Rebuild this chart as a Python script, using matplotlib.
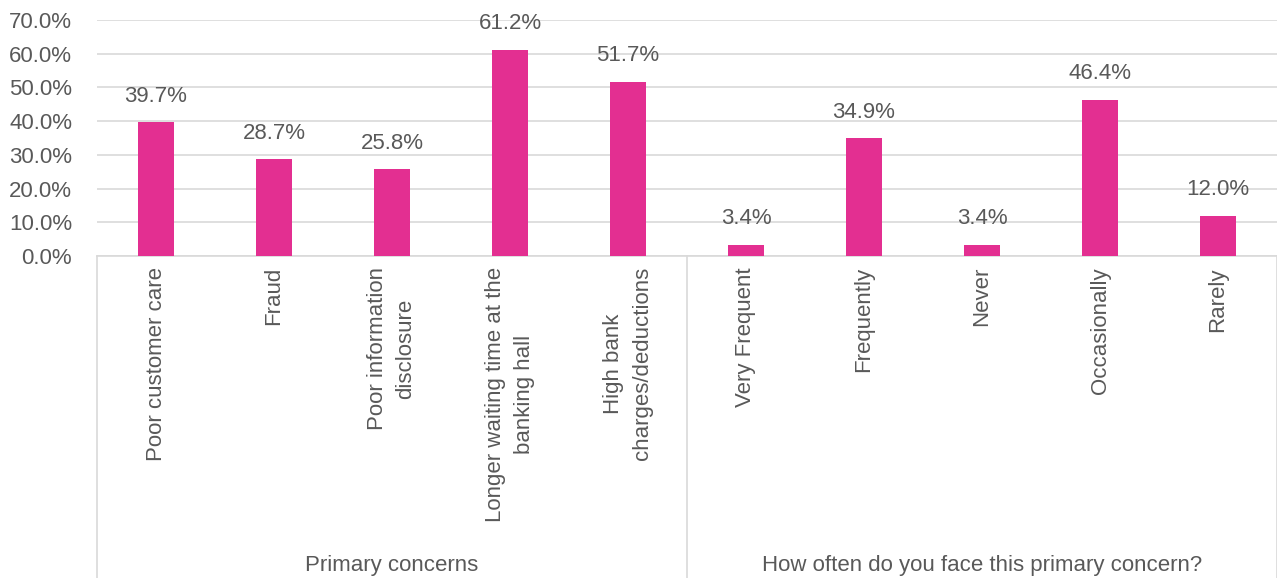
import matplotlib
matplotlib.use("Agg")
import matplotlib.pyplot as plt
import numpy as np

plt.rcParams['font.family'] = ['Liberation Sans', 'DejaVu Sans']

# Survey results (% of respondents)
concern_labels = ["Poor customer care", "Fraud", "Poor information\ndisclosure",
                  "Longer waiting time at the\nbanking hall", "High bank\ncharges/deductions"]
concern_values = [39.7, 28.7, 25.8, 61.2, 51.7]

freq_labels = ["Very Frequent", "Frequently", "Never", "Occasionally", "Rarely"]
freq_values = [3.4, 34.9, 3.4, 46.4, 12.0]

group_names = ["Primary concerns", "How often do you face this primary concern?"]

labels = concern_labels + freq_labels
values = concern_values + freq_values

text_color = "#595959"
grid_color = "#D9D9D9"
bar_color = "#E32F91"
fs = 16

W, H = 1277, 578
fig = plt.figure(figsize=(W / 100, H / 100), dpi=100)
ax = fig.add_axes([97 / W, 1 - 256 / H, 1 - 97 / W, (256 - 20) / H])

x = np.arange(len(values))
bars = ax.bar(x, values, width=0.31, color=bar_color, zorder=3)

for xi, v in zip(x, values):
    ax.annotate(f"{v:.1f}%", (xi, v), xytext=(0, 11), textcoords="offset points",
                ha="center", va="bottom", fontsize=fs, color=text_color)

ax.set_xlim(-0.5, len(values) - 0.5)
ax.set_ylim(0, 70)
ax.set_yticks(np.arange(0, 71, 10))
ax.set_yticklabels([f"{t:.1f}%" for t in np.arange(0, 71, 10)])
ax.yaxis.grid(True, color=grid_color, linewidth=1.2, zorder=0)
ax.tick_params(axis="y", length=0, pad=18, labelsize=fs, labelcolor=text_color)

ax.set_xticks(x)
ax.set_xticklabels(labels, rotation=90, ha="center", va="top",
                   multialignment="center", linespacing=1.45)
ax.tick_params(axis="x", length=0, pad=8, labelsize=fs, labelcolor=text_color)

for s in ["top", "right", "left"]:
    ax.spines[s].set_visible(False)
ax.spines["bottom"].set_color(grid_color)
ax.spines["bottom"].set_linewidth(1.2)

# group separators and group names below the category labels
trans = ax.get_xaxis_transform()
for xs in [-0.5, 4.5, 9.5]:
    ax.plot([xs, xs], [0, -1.4], color=grid_color, linewidth=1.2,
            transform=trans, clip_on=False)
ax.text(2, -1.31, group_names[0], transform=trans, ha="center", va="center",
        fontsize=fs, color=text_color)
ax.text(7, -1.31, group_names[1], transform=trans, ha="center", va="center",
        fontsize=fs, color=text_color)

fig.savefig("out.png", dpi=100)
